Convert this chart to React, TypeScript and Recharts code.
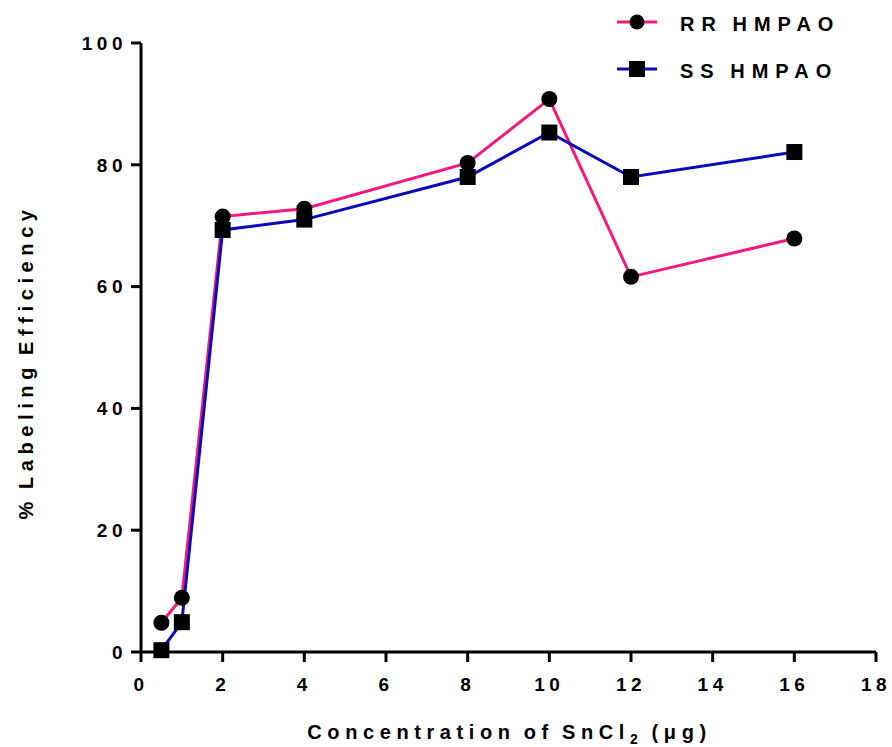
import React from 'react';
import { LineChart, Line, XAxis, YAxis } from 'recharts';

const xValues = [0.5, 1, 2, 4, 8, 10, 12, 16];
const rrValues = [4.8, 8.9, 71.5, 72.8, 80.3, 90.8, 61.6, 67.9];
const ssValues = [0.3, 4.9, 69.3, 71.0, 78.0, 85.3, 78.0, 82.1];
const xTicks = [0, 2, 4, 6, 8, 10, 12, 14, 16, 18];
const yTicks = [0, 20, 40, 60, 80, 100];
const seriesNames = ['RR HMPAO', 'SS HMPAO'];

const data = xValues.map((x, i) => ({ x, rr: rrValues[i], ss: ssValues[i] }));

const PINK = '#F5197F';
const BLUE = '#0A0AB8';
const FONT = '"Liberation Sans", Arial, sans-serif';

const SquareDot = (props: any) => {
  const { cx, cy } = props;
  if (cx == null || cy == null) return null;
  return <rect x={cx - 8} y={cy - 8} width={16} height={16} fill="#000" />;
};
const CircleDot = (props: any) => {
  const { cx, cy } = props;
  if (cx == null || cy == null) return null;
  return <circle cx={cx} cy={cy} r={8} fill="#000" />;
};

const XTitle = (props: any) => {
  const { viewBox } = props;
  const cx = viewBox.x + viewBox.width / 2 + 1;
  return (
    <text x={cx} y={739} textAnchor="middle" fontFamily={FONT} fontWeight="bold" fontSize={20} letterSpacing={5.6} wordSpacing={-3} fill="#000">
      <tspan>Concentration of SnCl</tspan>
      <tspan fontSize={14} dy={5}>2</tspan>
      <tspan dy={-5}> (μg)</tspan>
    </text>
  );
};

const YTitle = () => (
  <text x={0} y={0} transform="translate(33,362) rotate(-90)" textAnchor="middle" fontFamily={FONT} fontWeight="bold" fontSize={20} letterSpacing={5.6} wordSpacing={-4} fill="#000">
    % Labeling Efficiency
  </text>
);

const LegendOverlay = () => (
  <svg width={292} height={100} style={{ position: 'absolute', left: 600, top: 0, display: 'block' }}>
    {[0, 1].map((i) => {
      const y = 22 + i * 47;
      return (
        <g key={i}>
          <line x1={17} x2={57} y1={y} y2={y} stroke={i === 0 ? PINK : BLUE} strokeWidth={3} />
          {i === 0 ? (
            <circle cx={37} cy={y} r={7.5} fill="#000" />
          ) : (
            <rect x={29} y={y - 8} width={16} height={16} fill="#000" />
          )}
          <text x={80} y={y + 8.5} fontFamily={FONT} fontWeight="bold" fontSize={20} letterSpacing={7} wordSpacing={-3} fill="#000">
            {seriesNames[i]}
          </text>
        </g>
      );
    })}
  </svg>
);

export default function App() {
  return (
    <div style={{ position: 'absolute', left: 0, top: 0, width: 892, height: 747, background: '#fff' }}>
      <LineChart width={892} height={747} data={data} margin={{ top: 43, right: 16, bottom: 35, left: 0 }}>
        <XAxis
          dataKey="x"
          type="number"
          domain={[0, 18]}
          ticks={xTicks}
          interval={0}
          height={60}
          stroke="#000"
          strokeWidth={3}
          tickSize={10}
          tickLine={{ stroke: '#000', strokeWidth: 3 }}
          tick={{ fill: '#000', fontFamily: FONT, fontWeight: 'bold', fontSize: 19, letterSpacing: 4.5 }}
          tickMargin={16}
          label={<XTitle />}
        />
        <YAxis
          type="number"
          domain={[0, 100]}
          ticks={yTicks}
          interval={0}
          width={141}
          stroke="#000"
          strokeWidth={3}
          tickSize={10}
          tickLine={{ stroke: '#000', strokeWidth: 3 }}
          tick={{ fill: '#000', fontFamily: FONT, fontWeight: 'bold', fontSize: 19, letterSpacing: 4.5 }}
          tickMargin={4}
          label={<YTitle />}
        />
        <Line dataKey="rr" name={seriesNames[0]} stroke={PINK} strokeWidth={3} dot={<CircleDot />} activeDot={false} isAnimationActive={false} />
        <Line dataKey="ss" name={seriesNames[1]} stroke={BLUE} strokeWidth={3} dot={<SquareDot />} activeDot={false} isAnimationActive={false} />
      </LineChart>
      <LegendOverlay />
    </div>
  );
}
